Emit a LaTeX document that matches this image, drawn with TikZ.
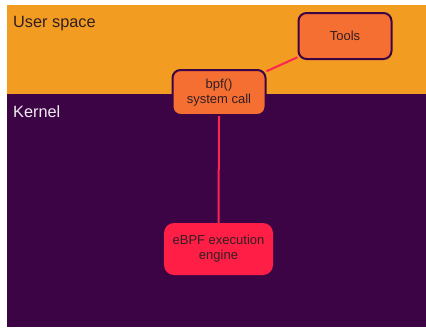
\documentclass[tikz,border=0pt]{standalone}
\usepackage{fontspec}
\setmainfont{Liberation Sans}
\definecolor{userbg}{RGB}{243,156,34}
\definecolor{kernbg}{RGB}{60,4,68}
\definecolor{boxfill}{RGB}{245,110,50}
\definecolor{enginefill}{RGB}{255,30,70}
\definecolor{linkcol}{RGB}{255,35,80}
\definecolor{txtdark}{RGB}{50,30,35}
\begin{document}
\begin{tikzpicture}[x=1pt,y=-1pt,
  region/.style={anchor=base west,inner sep=0pt,font=\fontsize{16.3}{19}\selectfont},
  callbox/.style={draw=kernbg,line width=2pt,fill=boxfill,rounded corners=8pt,
    text=txtdark,font=\fontsize{13}{15}\selectfont,align=center,inner sep=0pt},
  enginebox/.style={fill=enginefill,rounded corners=10pt,
    text=txtdark,font=\fontsize{13}{15}\selectfont,align=center,inner sep=0pt},
  link/.style={draw=linkcol,line width=2pt}]
\useasboundingbox (0,0) rectangle (426,327);
\fill[white] (0,0) rectangle (426,327);
\fill[userbg] (7,5) rectangle (426,94);
\fill[kernbg] (7,94) rectangle (426,327);
\node[region,text=txtdark] (user) at (13,27) {User space};
\node[region,text=white!92!kernbg] (kern) at (13,117) {Kernel};
\node[callbox,minimum width=93pt,minimum height=46pt] (tools) at (345,36) {Tools};
\node[callbox,minimum width=93pt,minimum height=45pt] (bpf) at (219,92.5) {bpf()\\system call};
\node[enginebox,minimum width=109pt,minimum height=52pt] (engine) at (218.5,249) {eBPF execution\\engine};
\draw[link] (bpf.south) -- (engine.north);
\draw[link] (tools) -- (bpf);
\end{tikzpicture}
\end{document}
